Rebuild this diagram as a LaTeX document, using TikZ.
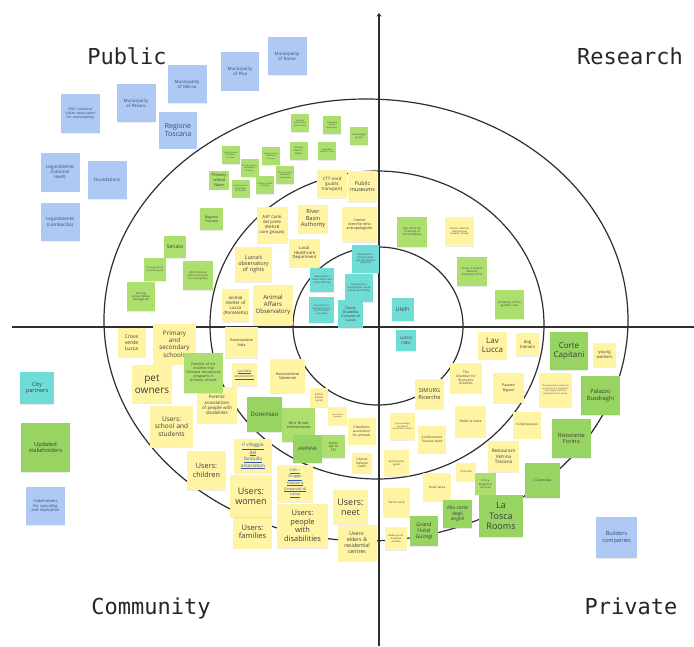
\documentclass[tikz,border=0pt]{standalone}
\usepackage{fontspec}
\setmainfont{Open Sans}
\newfontfamily\quadfont{DejaVu Sans Mono}
\usetikzlibrary{shadows,arrows.meta}

\definecolor{noteyel}{HTML}{FEF4A3}
\definecolor{notegrn}{HTML}{ADDF6E}
\definecolor{notegrnd}{HTML}{98D462}
\definecolor{noteblu}{HTML}{AFC9F5}
\definecolor{notecyn}{HTML}{70DCD6}
\definecolor{notetext}{HTML}{3C3C3C}
\definecolor{bluetext}{HTML}{3B4A78}
\definecolor{linkblue}{HTML}{3457B0}
\definecolor{ringcol}{HTML}{2E2E2E}

% underlined line of a link label
\newcommand{\lnk}[1]{\underline{#1}}
% no hyphenation inside the notes
\newcommand{\nohyph}{\hyphenpenalty=10000\relax\exhyphenpenalty=10000\relax}

\tikzset{
  note/.style={rectangle, inner sep=1pt, align=center, text=notetext,
    drop shadow={shadow xshift=0.4pt, shadow yshift=-0.9pt, opacity=0.15}},
  yel/.style={note, fill=noteyel},
  grn/.style={note, fill=notegrn},
  grnd/.style={note, fill=notegrnd},
  blu/.style={note, fill=noteblu, text=bluetext},
  cyn/.style={note, fill=notecyn},
  link/.style={text=linkblue},
  fs/.style={font=\linespread{1.15}\fontsize{#1}{#1}\selectfont\nohyph},
  wh/.code 2 args={\pgfmathsetmacro\notetw{#1-3}%
    \edef\notetmp{\noexpand\tikzset{minimum width=#1, minimum height=#2, text width=\notetw pt}}\notetmp},
  ring/.style={draw=ringcol, line width=1.2pt},
  axis/.style={draw=ringcol, line width=1.1pt},
  quad/.style={font=\quadfont\fontsize{22}{26}\selectfont, text=black!85, anchor=base}
}

\begin{document}
\begin{tikzpicture}[x=1pt, y=-1pt]
\useasboundingbox[fill=white] (0,0) rectangle (694,646);

% axes
\coordinate (xl) at (12,327);
\coordinate (xr) at (694,327);
\coordinate (yb) at (379,646);
\coordinate (yt) at (379,13);
\draw[axis] (xl) -- (xr);
\draw[axis, -{Stealth[length=3.5pt, width=5pt]}] (yb) -- (yt);

% rings
\coordinate (c1) at (378,326);
\coordinate (c2) at (377,325);
\coordinate (c3) at (366,320);
\draw[ring] (c1) ellipse [x radius=85, y radius=79];
\draw[ring] (c2) ellipse [x radius=167, y radius=154];
\draw[ring] (c3) ellipse [x radius=262, y radius=221];

% quadrant titles
\node[quad] (tpub) at (127,64) {Public};
\node[quad] (tres) at (630,64) {Research};
\node[quad] (tcom) at (151,614) {Community};
\node[quad] (tpri) at (631,614) {Private};

% ---- public institutions outside the rings
\node[blu, fs=3.6, wh={39}{39}] (anci) at (80.5,113.5) {ANCI (national italian association for municipality)};
\node[blu, fs=4.4, wh={39}{38}] (pesaro) at (136,103) {Municipality\\of Pesaro};
\node[blu, fs=4.4, wh={39}{38}] (messa) at (187,84) {Municipality\\of Messa};
\node[blu, fs=4.4, wh={38}{39}] (pisa) at (240,71) {Municipality\\of Pisa};
\node[blu, fs=4.4, wh={39}{38}] (rome) at (287,56) {Municipality\\of Rome};
\node[blu, fs=7, wh={38}{37}] (regt) at (178,130) {Regione\\Toscana};
\node[blu, fs=4.6, wh={39}{39}] (legn) at (60,172) {Legambiente\\(national\\level)};
\node[blu, fs=4.6, wh={39}{38}] (found) at (107,180) {Foundations};
\node[blu, fs=4.6, wh={39}{38}] (legl) at (60,222) {Legambiente\\(Lombardia)};

% ---- legend-like notes on the left and builders
\node[cyn, fs=5.6, wh={34}{32}] (city) at (37,388) {City\\partners};
\node[grnd, fs=5.6, wh={49}{49}] (upd) at (45.5,447.5) {Updated\\stakeholders};
\node[blu, fs=4, wh={39}{38}] (upsc) at (45.5,506) {Stakeholders for upscaling and replication};
\node[blu, fs=5.6, wh={41}{41}] (build) at (616.5,537.5) {Builders\\companies};

% ---- schools (small green notes)
\node[grn, fs=2.1, wh={18}{18}] (s1) at (300,123) {Primary school San Pietro a Vico};
\node[grn, fs=2.1, wh={18}{18}] (s2) at (332,125) {Secondary school Buonarroti};
\node[grn, fs=2.3, wh={18}{18}] (s3) at (359,136) {Scuola Reggio di Isola};
\node[grn, fs=2.3, wh={18}{18}] (s4) at (298.5,151) {Primary school S. Filippo};
\node[grn, fs=2.1, wh={18}{18}] (s5) at (327,151) {Secondary school D. Lucci};
\node[grn, fs=2.0, wh={18}{18}] (s6) at (230.5,155) {Primary school San Marco di Lucca};
\node[grn, fs=2.0, wh={18}{18}] (s7) at (271,156) {Primary school Sant'Anna di Lucca};
\node[grn, fs=2.0, wh={18}{18}] (s8) at (249.5,168) {Primary school Sant'Alessio di Lucca};
\node[grn, fs=4, wh={20}{19}] (s9) at (219,180) {Primary\\school\\Nave};
\node[grn, fs=2.0, wh={18}{18}] (s10) at (240.5,188.5) {Primary school Santa Maria del Giudice};
\node[grn, fs=2.1, wh={18}{18}] (s11) at (265,185) {Primary school San Vito};
\node[grn, fs=2.0, wh={18}{18}] (s12) at (285,175) {Primary school Santissima Annunziata};

% ---- public bodies inside the rings
\node[grn, fs=3.5, wh={23}{22}] (regtg) at (211.5,219) {Regione\\Toscana};
\node[grn, fs=5, wh={22}{22}] (senato) at (175,247) {Senato};
\node[grn, fs=2.5, wh={30}{29}] (ancig) at (198,275.5) {ANCI (National italian association for municipality)};
\node[grn, fs=2.3, wh={22}{23}] (nurs1) at (155,269.5) {Nursing homes (via Romagnoli)};
\node[grn, fs=2.7, wh={28}{29}] (nurs2) at (141,296.5) {Nursing homes Matteo Romaggi (Pi)};
\node[yel, fs=4.4, wh={30}{28}] (ctt) at (332,184) {CTT nord\\(public\\transport)};
\node[yel, fs=5.4, wh={29}{31}] (museum) at (362.5,186.5) {Public\\museums};
\node[yel, fs=4.2, wh={31}{36}] (asp) at (272,225) {ASP Carlo\\del prete\\(INHUB\\core groups)};
\node[yel, fs=5.6, wh={30}{28}] (river) at (313,219) {River\\Basin\\Authority};
\node[yel, fs=3.7, wh={35}{35}] (centro) at (359.5,224.5) {Centro ricerche etno antropologiche};
\node[yel, fs=5.4, wh={37}{35}] (obsr) at (253.5,264.5) {Lucca's\\observatory\\of rights};
\node[yel, fs=4.2, wh={31}{28}] (health) at (304.5,253) {Local\\Healthcare\\Department};
\node[yel, fs=4.4, wh={27}{33}] (shelter) at (235.5,305.5) {animal\\shelter of\\Lucca\\(Pontetetto)};
\node[yel, fs=6, wh={40}{40}] (animobs) at (273,305) {Animal\\Affairs\\Observatory};

% ---- municipal departments
\node[cyn, fs=2.5, wh={27}{28}] (dep1) at (365.5,259) {Department 1 (Environment and Information Systems)};
\node[cyn, fs=2.4, wh={24}{24}] (dep3) at (322,280) {Department 3 Public Works and Urban Planning};
\node[cyn, fs=2.4, wh={28}{28}] (dep2) at (359,288) {Department 2 (Social Rights, Social Policies and Safety)};
\node[cyn, fs=2.3, wh={25}{26}] (counc) at (321.5,310) {Councillor for the Environment, Civil Protection and Safety};
\node[cyn, fs=3.6, wh={25}{28}] (tavolo) at (350.5,314) {Tavolo\\Disabilità\\Comune di\\Lucca};
\node[cyn, fs=5, wh={22}{23}] (unipi) at (402.5,309.5) {UNIPI};
\node[cyn, fs=3.8, wh={20}{21}] (crea) at (406,340.5) {LUCCA\\CREA};

% ---- research
\node[grn, fs=2.6, wh={30}{30}] (spin) at (412,232) {Spin off of the University of Pisa (Simposio)};
\node[yel, fs=2.4, wh={29}{29}] (various) at (459.5,231.5) {Various national/ international research groups};
\node[grn, fs=2.6, wh={30}{29}] (human) at (472,271.5) {Group of Human Medicine University of Pisa};
\node[grn, fs=2.8, wh={29}{29}] (geri) at (509.5,304.5) {University of Pisa geriatric area};

% ---- community
\node[yel, fs=5, wh={28}{30}] (croce) at (131.5,342.5) {Croce\\verde\\Lucca};
\node[yel, fs=6.3, wh={43}{41}] (schools) at (174.5,344) {Primary\\and\\secondary\\schools};
\node[yel, fs=3.8, wh={33}{31}] (aida) at (241.5,342.5) {Associazione\\Aida};
\node[yel, fs=4.4, wh={40}{36}] (parents) at (217,405) {Parents'\\associations\\of people with\\disabilities};
\node[grn, fs=3.5, wh={39}{40}] (families) at (203.5,373) {Families of the children that followed educational programs in primary schools};
\node[yel, fs=10, wh={40}{39}] (pet) at (152,384) {pet\\owners};
\node[yel, link, fs=3.5, wh={25}{23}] (lucch) at (244.5,374.5) {\lnk{Lucchesi}\\\lnk{associazioni}};
\node[yel, fs=3.9, wh={35}{34}] (salv) at (287.5,376) {Associazione\\Salvemini};
\node[yel, fs=2.6, wh={18}{19}] (donna) at (319,397.5) {Centro\\Donna\\Lucca};
\node[grnd, fs=6, wh={35}{35}] (dorem) at (264.5,414.5) {Doremiao};
\node[yel, fs=1.8, wh={19}{18}] (labor) at (337.5,416) {Laboratori di comunità};
\node[yel, fs=3.3, wh={28}{27}] (bard) at (361.5,431) {Il Bardotto association for animals};
\node[grn, fs=3.8, wh={33}{34}] (gli) at (298.5,425) {Gli e le sue contromosse};
\node[yel, fs=6.5, wh={43}{42}] (ustud) at (171.5,426.5) {Users:\\school and\\students};
\node[yel, link, fs=4.6, wh={38}{34}] (villag) at (253,456) {\lnk{Il villaggio}\\\lnk{del}\\\lnk{fanciullo}\\\lnk{association}};
\node[grnd, fs=4.8, wh={29}{28}] (anpana) at (307.5,449) {ANPANA};
\node[grn, fs=3.2, wh={23}{23}] (anche) at (333.5,446.5) {Anche\\per te\\ETS};
\node[yel, fs=3.3, wh={20}{20}] (ciechi) at (362,463) {Unione\\Italiana\\ciechi};
\node[yel, fs=7.2, wh={39}{39}] (uchild) at (206.5,470.5) {Users:\\children};
\node[yel, link, fs=3.7, wh={36}{37}] (ceis) at (295,483.5) {\lnk{CeIS --}\\\lnk{Gruppo}\\\lnk{`Giovani e}\\\lnk{Comunità' di}\\\lnk{Lucca}};
\node[yel, fs=7.5, wh={39}{33}] (ufam) at (252.5,532) {Users:\\families};
\node[yel, fs=9, wh={42}{42}] (uwomen) at (251,496) {Users:\\women};
\node[yel, fs=7.5, wh={51}{44}] (udis) at (302.5,526) {Users:\\people\\with\\disabilities};
\node[yel, fs=9, wh={35}{34}] (uneet) at (350.5,507) {Users:\\neet};
\node[yel, fs=5.2, wh={39}{36}] (uelder) at (357,543) {Users:\\elders \&\\residential\\centres};

% ---- private
\node[yel, fs=8, wh={29}{27}] (lav) at (492.5,345.5) {Lav\\Lucca};
\node[yel, fs=4.2, wh={23}{23}] (dog) at (527.5,344.5) {dog\\trainers};
\node[grnd, fs=8, wh={38}{38}] (corte) at (569,351) {Corte\\Capitani};
\node[yel, fs=4.2, wh={23}{24}] (young) at (604.5,355) {young\\workers};
\node[yel, fs=3.3, wh={32}{30}] (chamber) at (466,378) {The\\Chamber for\\Economic\\Activities};
\node[yel, fs=5.6, wh={29}{30}] (simurg) at (429.5,394) {SIMURG\\Ricerche};
\node[yel, fs=3.6, wh={31}{30}] (bigioni) at (508.5,388) {Palazzo\\Bigioni};
\node[yel, fs=2.1, wh={33}{34}] (orders) at (555.5,390) {The professional orders for real estate and companies that supply materials and products for private};
\node[grnd, fs=5.8, wh={39}{39}] (busd) at (600.5,395.5) {Palazzo\\Busdraghi};
\node[yel, fs=2.1, wh={25}{27}] (herit) at (402.5,426.5) {Lucca Heritage Foundation information centers};
\node[yel, fs=3.5, wh={31}{31}] (luna) at (470.5,421.5) {Hotel la Luna};
\node[yel, fs=3, wh={28}{27}] (confart) at (527,425) {Confartigianato};
\node[grnd, fs=5.6, wh={39}{39}] (forino) at (571.5,438.5) {Ristorante\\Forino};
\node[yel, fs=3.2, wh={28}{27}] (confes) at (432,439.5) {Confesercenti Toscana Nord};
\node[yel, fs=4.6, wh={31}{31}] (vetrina) at (503.5,456.5) {Restaurant\\Vetrina\\Toscana};
\node[yel, fs=2.6, wh={25}{26}] (guide) at (396.5,463) {associazione guide};
\node[yel, fs=2.6, wh={20}{18}] (incur) at (466,472) {Incuriosa};
\node[grn, fs=2.8, wh={21}{22}] (drog) at (485.5,484) {Antica Drogheria di Lucca};
\node[grnd, fs=3.2, wh={35}{35}] (gurm) at (542.5,480.5) {Il Gurmolas};
\node[yel, fs=3, wh={28}{28}] (santa) at (437,487) {Hotel Santa};
\node[yel, fs=3, wh={27}{29}] (torre) at (396.5,502.5) {Torre Lucca};
\node[grnd, fs=9, wh={44}{42}] (tosca) at (501,516) {La\\Tosca\\Rooms};
\node[grnd, fs=4.8, wh={29}{28}] (angeli) at (457.5,514) {Alla corte\\degli\\angeli};
\node[grnd, fs=5.2, wh={28}{30}] (guinigi) at (424,531) {Grand\\Hotel\\Guinigi};
\node[yel, fs=2.4, wh={22}{23}] (wake) at (396,538.5) {Wake up and innovative services};

\end{tikzpicture}
\end{document}
